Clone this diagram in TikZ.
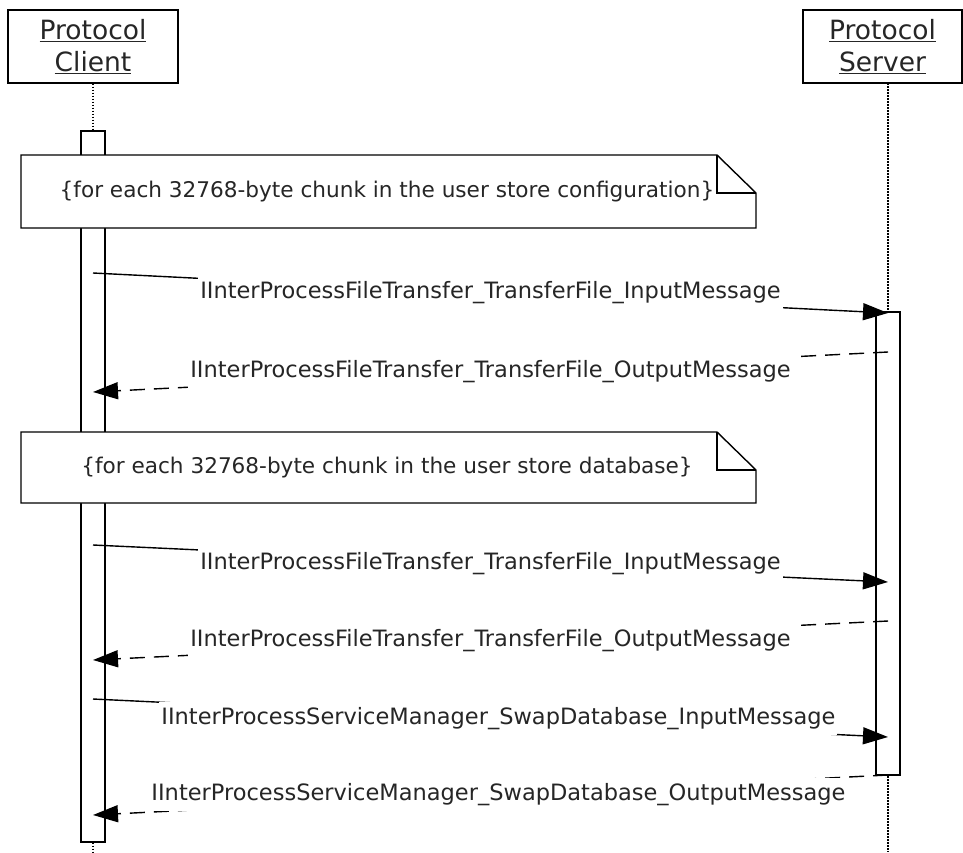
\documentclass[tikz,border=0pt]{standalone}
\usepackage{fontspec}
\setmainfont{DejaVu Sans}
\usetikzlibrary{arrows.meta}

\begin{document}
\begin{tikzpicture}[x=1pt,y=-1pt,
    actor/.style={draw,line width=1.4pt,fill=white,align=center,text=black!85,
        font=\fontsize{26.5}{32}\selectfont,minimum height=73pt,inner sep=0pt},
    bar/.style={draw,line width=1.4pt,fill=white,minimum width=24pt,inner sep=0pt},
    life/.style={line width=1.2pt,dash pattern=on 1.5pt off 1.5pt},
    note/.style={draw,line width=1.4pt,fill=white},
    notetext/.style={text=black!85,font=\fontsize{21.6}{26}\selectfont},
    msg/.style={fill=white,text=black!85,font=\fontsize{22.5}{26}\selectfont,
        inner xsep=2pt,inner ysep=5pt},
    call/.style={line width=1.4pt,-{Triangle[length=25pt,width=17pt]}},
    reply/.style={call,dash pattern=on 15pt off 9pt}]
    \useasboundingbox (0,0) rectangle (963,852);

    % lifelines
    \node[actor,minimum width=170pt] (client) at (93,46.5)
        {\underline{Protocol}\\\underline{Client}};
    \node[actor,minimum width=159pt] (server) at (882.5,46.5)
        {\underline{Protocol}\\\underline{Server}};
    \draw[life] (client.south) -- (93,852);
    \draw[life] (888,83) -- (888,852);
    \node[bar,minimum height=711pt] (cbar) at (93,486.5) {};
    \node[bar,minimum height=463pt] (sbar) at (888,543.5) {};

    % loop notes
    \draw[note] (21,155) -- (717,155) -- (756,193) -- (756,228) -- (21,228) -- cycle;
    \draw[line width=1.4pt] (717,155) -- (717,193) -- (756,193);
    \node[notetext] (loop1) at (387,191.5)
        {\{for each 32768-byte chunk in the user store configuration\}};
    \draw[note] (21,432) -- (717,432) -- (756,470) -- (756,503) -- (21,503) -- cycle;
    \draw[line width=1.4pt] (717,432) -- (717,470) -- (756,470);
    \node[notetext] (loop2) at (387,467.5)
        {\{for each 32768-byte chunk in the user store database\}};

    % message ends
    \coordinate (c1) at (93,273);  \coordinate (s1) at (888,313);
    \coordinate (s2) at (888,352); \coordinate (c2) at (93,392);
    \coordinate (c3) at (93,545);  \coordinate (s3) at (888,582);
    \coordinate (s4) at (888,621); \coordinate (c4) at (93,660);
    \coordinate (c5) at (93,699);  \coordinate (s5) at (888,737);
    \coordinate (s6) at (888,775); \coordinate (c6) at (93,815);

    \draw[call] (c1) -- node[msg] (m1)
        {IInterProcessFileTransfer\_TransferFile\_InputMessage} (s1);
    \draw[reply] (s2) -- node[msg] (m2)
        {IInterProcessFileTransfer\_TransferFile\_OutputMessage} (c2);
    \draw[call] (c3) -- node[msg] (m3)
        {IInterProcessFileTransfer\_TransferFile\_InputMessage} (s3);
    \draw[reply] (s4) -- node[msg] (m4)
        {IInterProcessFileTransfer\_TransferFile\_OutputMessage} (c4);
    \draw[call] (c5) -- node[msg,pos=.51] (m5)
        {IInterProcessServiceManager\_SwapDatabase\_InputMessage} (s5);
    \draw[reply] (s6) -- node[msg,pos=.49] (m6)
        {IInterProcessServiceManager\_SwapDatabase\_OutputMessage} (c6);

\end{tikzpicture}
\end{document}
